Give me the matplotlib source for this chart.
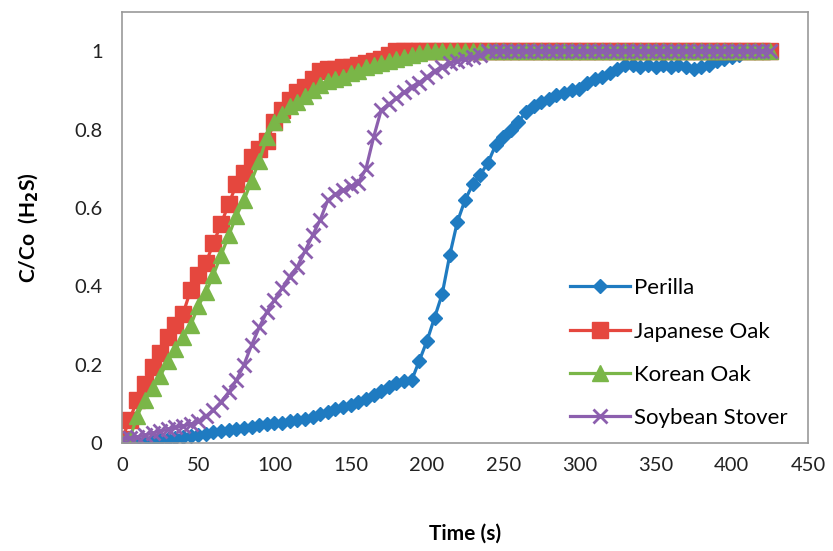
import matplotlib
matplotlib.use('Agg')  # no display
import matplotlib.pyplot as plt

plt.rcParams['font.family'] = ['Lato', 'DejaVu Sans']

# time axis (s), one sample every 5 s
time_s = [0, 5, 10, 15, 20, 25, 30, 35, 40, 45, 50, 55, 60, 65, 70, 75, 80, 85, 90, 95,
          100, 105, 110, 115, 120, 125, 130, 135, 140, 145, 150, 155, 160, 165, 170, 175,
          180, 185, 190, 195, 200, 205, 210, 215, 220, 225, 230, 235, 240, 245, 250, 255,
          260, 265, 270, 275, 280, 285, 290, 295, 300, 305, 310, 315, 320, 325, 330, 335,
          340, 345, 350, 355, 360, 365, 370, 375, 380, 385, 390, 395, 400, 405, 410, 415,
          420, 425]

perilla = [0.0, 0.0, 0.003, 0.005, 0.007, 0.009, 0.011, 0.013, 0.015, 0.018, 0.021, 0.024,
           0.027, 0.030, 0.033, 0.036, 0.039, 0.042, 0.045, 0.048, 0.050, 0.052, 0.055, 0.058,
           0.062, 0.067, 0.073, 0.080, 0.086, 0.092, 0.098, 0.105, 0.113, 0.122, 0.132, 0.142,
           0.152, 0.158, 0.160, 0.21, 0.26, 0.32, 0.38, 0.48, 0.565, 0.62, 0.66, 0.685,
           0.715, 0.76, 0.78, 0.80, 0.82, 0.845, 0.86, 0.87, 0.878, 0.888, 0.893, 0.90,
           0.905, 0.92, 0.93, 0.935, 0.945, 0.955, 0.965, 0.965, 0.96, 0.965, 0.96, 0.965,
           0.96, 0.965, 0.96, 0.955, 0.96, 0.965, 0.975, 0.98, 0.985, 0.99, 1.0, 1.0,
           1.0, 1.0]

japanese_oak = [0.01, 0.06, 0.11, 0.15, 0.195, 0.23, 0.27, 0.30, 0.33, 0.39, 0.43, 0.46,
                0.51, 0.56, 0.61, 0.66, 0.69, 0.73, 0.75, 0.77, 0.82, 0.85, 0.875, 0.895,
                0.91, 0.93, 0.95, 0.955, 0.955, 0.96, 0.96, 0.965, 0.97, 0.975, 0.98, 0.99,
                1.0, 1.0, 1.0, 1.0, 1.0, 1.0, 1.0, 1.0, 1.0, 1.0, 1.0, 1.0,
                1.0, 1.0, 1.0, 1.0, 1.0, 1.0, 1.0, 1.0, 1.0, 1.0, 1.0, 1.0,
                1.0, 1.0, 1.0, 1.0, 1.0, 1.0, 1.0, 1.0, 1.0, 1.0, 1.0, 1.0,
                1.0, 1.0, 1.0, 1.0, 1.0, 1.0, 1.0, 1.0, 1.0, 1.0, 1.0, 1.0,
                1.0, 1.0]

korean_oak = [0.0, 0.01, 0.07, 0.11, 0.14, 0.17, 0.21, 0.24, 0.27, 0.30, 0.35, 0.385,
              0.43, 0.48, 0.53, 0.58, 0.62, 0.67, 0.72, 0.78, 0.82, 0.84, 0.86, 0.87,
              0.885, 0.90, 0.915, 0.925, 0.93, 0.935, 0.945, 0.95, 0.96, 0.965, 0.97, 0.975,
              0.98, 0.985, 0.99, 0.995, 1.0, 1.0, 1.0, 1.0, 1.0, 1.0, 1.0, 1.0,
              1.0, 1.0, 1.0, 1.0, 1.0, 1.0, 1.0, 1.0, 1.0, 1.0, 1.0, 1.0,
              1.0, 1.0, 1.0, 1.0, 1.0, 1.0, 1.0, 1.0, 1.0, 1.0, 1.0, 1.0,
              1.0, 1.0, 1.0, 1.0, 1.0, 1.0, 1.0, 1.0, 1.0, 1.0, 1.0, 1.0,
              1.0, 1.0]

soybean_stover = [0.01, 0.012, 0.015, 0.02, 0.025, 0.03, 0.035, 0.04, 0.043, 0.048, 0.055, 0.068,
                  0.085, 0.105, 0.13, 0.16, 0.20, 0.25, 0.295, 0.335, 0.365, 0.395, 0.425, 0.45,
                  0.49, 0.53, 0.57, 0.62, 0.635, 0.645, 0.655, 0.665, 0.70, 0.78, 0.85, 0.865,
                  0.88, 0.895, 0.91, 0.92, 0.935, 0.95, 0.96, 0.97, 0.975, 0.98, 0.985, 0.99,
                  1.0, 1.0, 1.0, 1.0, 1.0, 1.0, 1.0, 1.0, 1.0, 1.0, 1.0, 1.0,
                  1.0, 1.0, 1.0, 1.0, 1.0, 1.0, 1.0, 1.0, 1.0, 1.0, 1.0, 1.0,
                  1.0, 1.0, 1.0, 1.0, 1.0, 1.0, 1.0, 1.0, 1.0, 1.0, 1.0, 1.0,
                  1.0, 1.0]

x_ticks = [0, 50, 100, 150, 200, 250, 300, 350, 400, 450]
y_ticks = [0, 0.2, 0.4, 0.6, 0.8, 1.0]
y_tick_labels = ['0', '0.2', '0.4', '0.6', '0.8', '1']

fig = plt.figure(figsize=(8.33, 5.51), dpi=100)
ax = fig.add_axes([0.1465, 0.196, 0.8235, 0.782])

ax.plot(time_s, perilla, color='#1f7bc1', lw=2.3, marker='D', ms=7.5, label='Perilla')
ax.plot(time_s, japanese_oak, color='#e5473e', lw=2.3, marker='s', ms=11, label='Japanese Oak')
ax.plot(time_s, korean_oak, color='#7ab648', lw=2.3, marker='^', ms=11, label='Korean Oak')
ax.plot(time_s, soybean_stover, color='#8c5fae', lw=2.3, marker='x', ms=10, mew=2,
        label='Soybean Stover')

ax.set_xlim(0, 450)
ax.set_ylim(0, 1.1)
ax.set_xticks(x_ticks)
ax.set_yticks(y_ticks)
ax.set_yticklabels(y_tick_labels)
ax.tick_params(length=0, labelsize=14.5, pad=10, colors='#222222')
ax.tick_params(axis='y', pad=14)
for sp in ax.spines.values():
    sp.set_color('#999999')
    sp.set_linewidth(1.2)

ax.set_xlabel('Time (s)', fontsize=15, fontweight='bold', labelpad=36)
ax.set_ylabel('C/Co  (H$_\\mathbf{2}$S)', fontsize=15, fontweight='bold', labelpad=24)

ax.legend(loc='lower right', bbox_to_anchor=(1.0, -0.012), frameon=False, fontsize=16,
          handlelength=2.7, labelspacing=1.05, handletextpad=0.2)

fig.savefig('out.png', dpi=100)
